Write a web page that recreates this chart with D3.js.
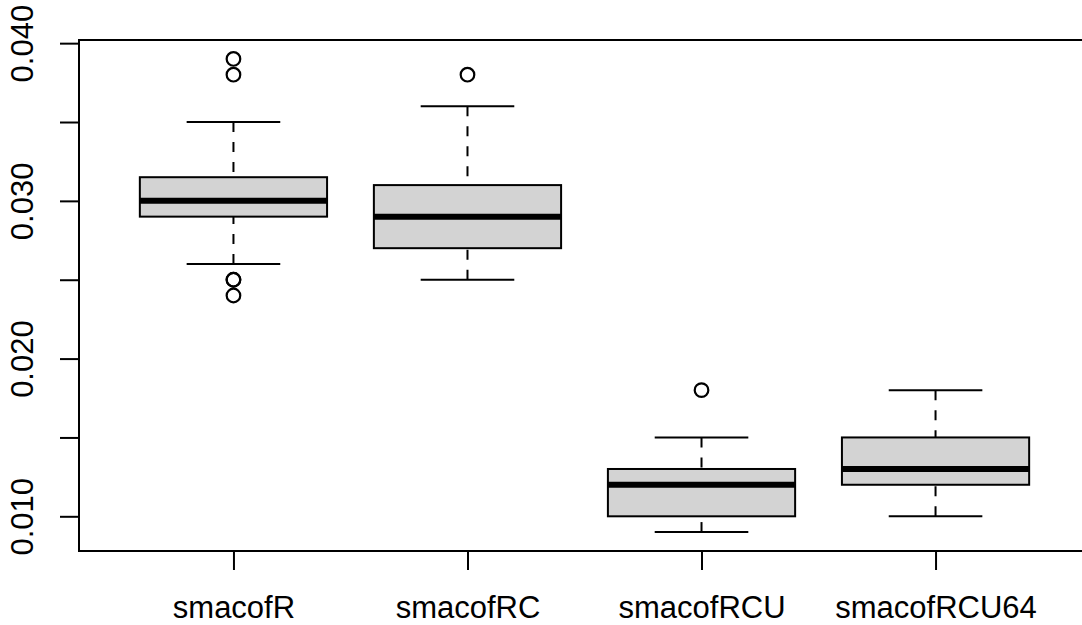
<!DOCTYPE html>
<html lang="en">
<head>
    <meta charset="UTF-8">
    <title>smacof boxplot</title>
    <script src="https://d3js.org/d3.v7.min.js"></script>
    <style>
        body {
            margin: 0;
            padding: 0;
            background: #fff;
            overflow: hidden;
        }
        svg text {
            font-family: "Liberation Sans", Arial, sans-serif;
            font-size: 31px;
            fill: #000;
        }
    </style>
</head>
<body>
    <svg width="1082" height="625"></svg>

    <script>
        // values
        const categories = ["smacofR", "smacofRC", "smacofRCU", "smacofRCU64"];
        const whiskerLow  = [0.026, 0.025, 0.009, 0.010];
        const q1          = [0.029, 0.027, 0.010, 0.012];
        const medians     = [0.030, 0.029, 0.012, 0.013];
        const q3          = [0.0315, 0.031, 0.013, 0.015];
        const whiskerHigh = [0.035, 0.036, 0.015, 0.018];
        const outliers    = [
            [0.039, 0.038, 0.025, 0.025, 0.024],
            [0.038],
            [0.018],
            []
        ];
        const yTicks = [0.010, 0.015, 0.020, 0.025, 0.030, 0.035, 0.040];
        const yLabelled = [0.010, 0.020, 0.030, 0.040];

        const svg = d3.select("svg");

        const plotLeft = 79, plotTop = 40, plotBottom = 551, plotRight = 1090;

        // R style: group i sits at i+1, limits padded by 4%
        const x = d3.scaleLinear()
            .domain([0.34, 4.66])
            .range([plotLeft, plotRight]);

        const y = d3.scaleLinear()
            .domain([0.0078, 0.0402])
            .range([plotBottom, plotTop]);

        const boxes = categories.map((c, i) => ({
            name: c,
            pos: i + 1,
            lo: whiskerLow[i],
            q1: q1[i],
            med: medians[i],
            q3: q3[i],
            hi: whiskerHigh[i],
            out: outliers[i]
        }));

        const g = svg.selectAll("g.box")
            .data(boxes)
            .enter()
            .append("g")
            .attr("class", "box");

        // dashed whiskers
        g.append("line")
            .attr("x1", d => x(d.pos)).attr("x2", d => x(d.pos))
            .attr("y1", d => y(d.hi)).attr("y2", d => y(d.q3))
            .attr("stroke", "#000").attr("stroke-width", 2)
            .attr("stroke-dasharray", "10,10");
        g.append("line")
            .attr("x1", d => x(d.pos)).attr("x2", d => x(d.pos))
            .attr("y1", d => y(d.lo)).attr("y2", d => y(d.q1))
            .attr("stroke", "#000").attr("stroke-width", 2)
            .attr("stroke-dasharray", "10,10");

        // whisker caps
        ["hi", "lo"].forEach(k => {
            g.append("line")
                .attr("x1", d => x(d.pos - 0.2)).attr("x2", d => x(d.pos + 0.2))
                .attr("y1", d => y(d[k])).attr("y2", d => y(d[k]))
                .attr("stroke", "#000").attr("stroke-width", 2);
        });

        g.append("rect")
            .attr("x", d => x(d.pos - 0.4))
            .attr("width", d => x(d.pos + 0.4) - x(d.pos - 0.4))
            .attr("y", d => y(d.q3))
            .attr("height", d => y(d.q1) - y(d.q3))
            .attr("fill", "#d3d3d3")
            .attr("stroke", "#000")
            .attr("stroke-width", 2);

        g.append("line")
            .attr("x1", d => x(d.pos - 0.4)).attr("x2", d => x(d.pos + 0.4))
            .attr("y1", d => y(d.med)).attr("y2", d => y(d.med))
            .attr("stroke", "#000").attr("stroke-width", 6);

        g.selectAll("circle")
            .data(d => d.out.map(v => ({ pos: d.pos, v: v })))
            .enter()
            .append("circle")
            .attr("cx", d => x(d.pos))
            .attr("cy", d => y(d.v))
            .attr("r", 6.8)
            .attr("fill", "none")
            .attr("stroke", "#000")
            .attr("stroke-width", 2.2);

        // frame
        svg.append("rect")
            .attr("x", plotLeft).attr("y", plotTop)
            .attr("width", plotRight - plotLeft).attr("height", plotBottom - plotTop)
            .attr("fill", "none")
            .attr("stroke", "#000")
            .attr("stroke-width", 2);

        // y axis
        const yAxis = svg.append("g")
            .attr("transform", `translate(${plotLeft},0)`)
            .call(d3.axisLeft(y)
                .tickValues(yTicks)
                .tickSize(19)
                .tickFormat(d => yLabelled.some(v => Math.abs(v - d) < 1e-9) ? d3.format(".3f")(d) : ""));
        yAxis.select(".domain").remove();
        yAxis.selectAll(".tick line").attr("stroke", "#000").attr("stroke-width", 2);
        yAxis.selectAll(".tick text")
            .attr("x", 0)
            .attr("y", -46)
            .attr("dy", null)
            .attr("transform", "rotate(-90)")
            .attr("text-anchor", "middle");
        yAxis.attr("font-size", null).attr("font-family", null);

        // x axis
        const xAxis = svg.append("g")
            .attr("transform", `translate(0,${plotBottom})`)
            .call(d3.axisBottom(x)
                .tickValues(boxes.map(d => d.pos))
                .tickSize(19)
                .tickFormat((d, i) => categories[i]));
        xAxis.select(".domain").remove();
        xAxis.selectAll(".tick line").attr("stroke", "#000").attr("stroke-width", 2);
        xAxis.selectAll(".tick text")
            .attr("y", 67)
            .attr("dy", null)
            .attr("text-anchor", "middle");
        xAxis.attr("font-size", null).attr("font-family", null);
    </script>
</body>
</html>
